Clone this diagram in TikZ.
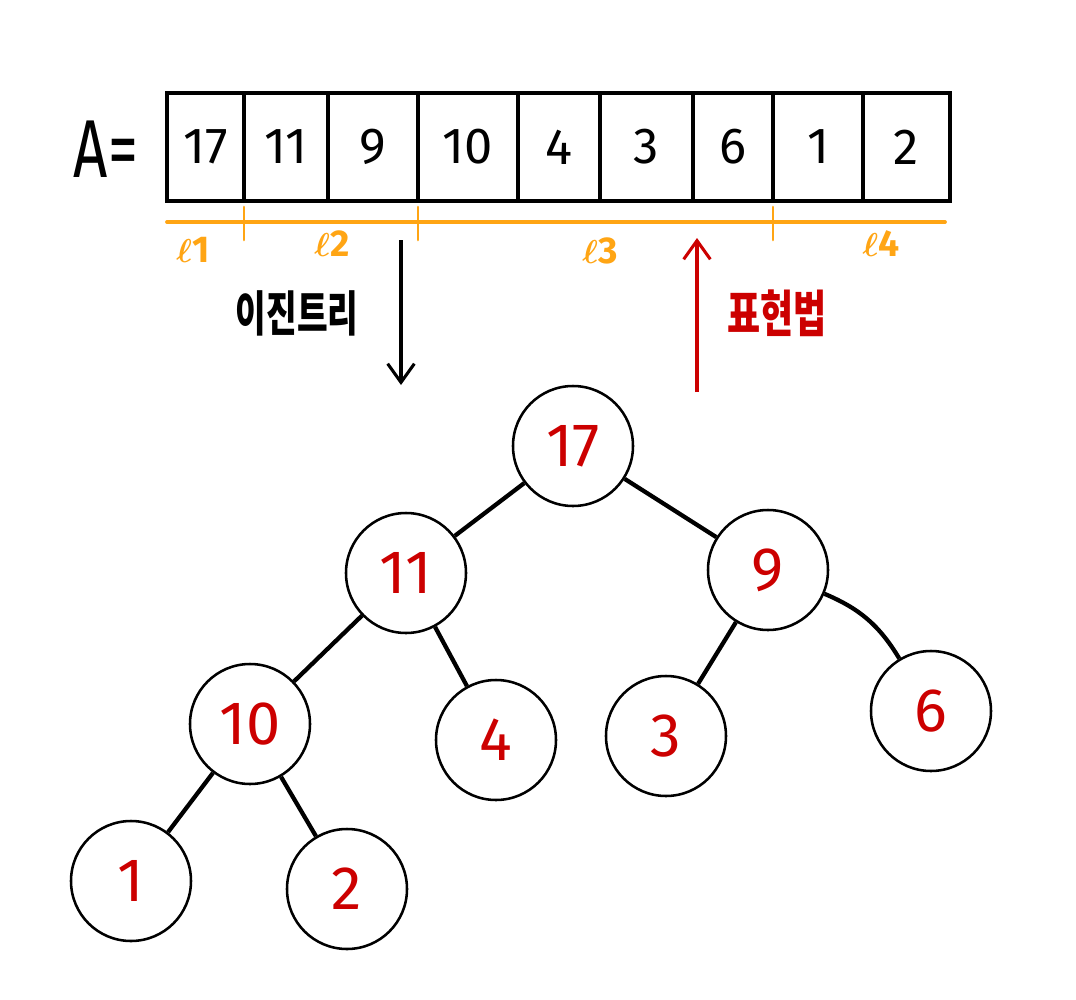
\documentclass[tikz,border=0pt]{standalone}
\usepackage{fontspec}
\setmainfont{Fira Sans}
\newfontfamily\krfont{Noto Sans CJK KR}
\usetikzlibrary{arrows.meta}
\definecolor{hred}{RGB}{204,0,0}
\definecolor{horange}{RGB}{255,165,20}
\begin{document}
\begin{tikzpicture}[x=0.75pt,y=-0.75pt,
  cell/.style={draw, line width=2.6pt, inner sep=0pt, minimum height=81pt, font=\fontsize{38}{40}\selectfont},
  tnode/.style={draw, circle, line width=1.9pt, minimum size=90pt, inner sep=0pt, text=hred, font=\fontsize{46}{48}\selectfont},
  edge/.style={line width=3.2pt},
  lvl/.style={text=horange, font=\bfseries\mathversion{bold}\fontsize{28}{30}\selectfont},
  otick/.style={draw=horange, line width=2pt},
  arr/.style={line width=2.3pt, -{Straight Barb[length=14pt,width=20pt,line width=2.3pt]}}
]
\useasboundingbox[fill=white] (0,0) rectangle (1076,1000);
% A=
\node (Alab) at (106,149) {\scalebox{0.8}[1.1]{\fontsize{56}{58}\selectfont A=}};
% array cells
\node[cell, minimum width=57.75pt] (c1) at (205.5,147) {17};
\node[cell, minimum width=63pt] (c2) at (286,147) {11};
\node[cell, minimum width=67.5pt] (c3) at (373,147) {9};
\node[cell, minimum width=75pt] (c4) at (468,147) {10};
\node[cell, minimum width=61.5pt] (c5) at (559,147) {4};
\node[cell, minimum width=69.75pt] (c6) at (646.5,147) {3};
\node[cell, minimum width=60pt] (c7) at (733,147) {6};
\node[cell, minimum width=67.5pt] (c8) at (818,147) {1};
\node[cell, minimum width=65.25pt] (c9) at (906.5,147) {2};
% orange level line
\coordinate (oL) at (167,222);
\coordinate (oR) at (945,222);
\draw[otick, line width=2.8pt, line cap=round] (oL) -- (oR);
\coordinate (t1a) at (244,207); \coordinate (t1b) at (244,240);
\coordinate (t2a) at (418,207); \coordinate (t2b) at (418,240);
\coordinate (t3a) at (773,207); \coordinate (t3b) at (773,240);
\draw[otick, line cap=round] (t1a) -- (t1b);
\draw[otick, line cap=round] (t2a) -- (t2b);
\draw[otick, line cap=round] (t3a) -- (t3b);
\node[lvl] (l1) at (193,250) {$\ell$1};
\node[lvl] (l2) at (332,244) {$\ell$2};
\node[lvl] (l3) at (600,251) {$\ell$3};
\node[lvl] (l4) at (881,244) {$\ell$4};
% arrows
\coordinate (bA) at (401,240);
\coordinate (bB) at (401,385);
\draw[arr] (bA) -- (bB);
\node (bt) at (297,313) {\scalebox{1}[1.45]{\krfont\bfseries\fontsize{25}{26}\selectfont 이진트리}};
\coordinate (rA) at (697,392);
\coordinate (rB) at (697,238);
\draw[arr, draw=hred] (rA) -- (rB);
\node[text=hred] (rt) at (777,313) {\scalebox{1}[1.4]{\krfont\bfseries\fontsize{27}{28}\selectfont 표현법}};
% tree
\node[tnode] (n17) at (573,446) {17};
\node[tnode] (n11) at (406,573) {11};
\node[tnode] (n9) at (768,570) {9};
\node[tnode] (n10) at (250,724) {10};
\node[tnode] (n4) at (496,740) {4};
\node[tnode] (n3) at (666,736) {3};
\node[tnode] (n6) at (931,711) {6};
\node[tnode] (n1) at (131,881) {1};
\node[tnode] (n2) at (347,889) {2};
\draw[edge] (n17) -- (n11);
\draw[edge] (n17) -- (n9);
\draw[edge] (n11) -- (n10);
\draw[edge] (n11) -- (n4);
\draw[edge] (n9) -- (n3);
\draw[edge] (n9) to[bend left=18] (n6);
\draw[edge] (n10) -- (n1);
\draw[edge] (n10) -- (n2);
\end{tikzpicture}
\end{document}
